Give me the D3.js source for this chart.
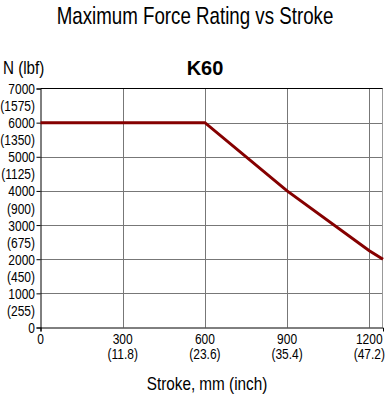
<!DOCTYPE html>
<html><head><meta charset="utf-8">
<script src="https://cdn.jsdelivr.net/npm/d3@7"></script>
<style>body{margin:0;background:#fff}svg{display:block}</style>
</head><body>
<script>
const strokeMm = [0, 600, 900, 1200, 1250];
const forceN = [6000, 6000, 4000, 2250, 2000];
const yTicks = [0, 1000, 2000, 3000, 4000, 5000, 6000, 7000];
const yTickLbf = ["", "(255)", "(450)", "(675)", "(900)", "(1125)", "(1350)", "(1575)"];
const xTicks = [0, 300, 600, 900, 1200];
const xTickInch = ["", "(11.8)", "(23.6)", "(35.4)", "(47.2)"];

const W = 385, H = 396;
const m = {l: 40.5, r: 383, t: 88.5, b: 327.5};
const font = "'Liberation Sans', Arial, sans-serif";
const svg = d3.select("body").append("svg").attr("width", W).attr("height", H)
  .style("font-family", font);

function txt(g, px, py, s, size, anchor, sx) {
  return g.append("text").attr("transform", `translate(${px},${py}) scale(${sx || 0.8},1)`)
    .attr("text-anchor", anchor || "start").attr("font-size", size).attr("fill", "#000").text(s);
}

const x = d3.scaleLinear().domain([0, 1250]).range([m.l, m.r]);
const y = d3.scaleLinear().domain([0, 7000]).range([m.b, m.t]);

// grid
svg.append("g").selectAll("line").data(yTicks.slice(1, -1)).join("line")
  .attr("x1", m.l).attr("x2", m.r).attr("y1", d => Math.round(y(d)) + 0.5).attr("y2", d => Math.round(y(d)) + 0.5)
  .attr("stroke", "#777");
svg.append("g").selectAll("line").data(xTicks.slice(1)).join("line")
  .attr("y1", m.t).attr("y2", m.b).attr("x1", d => Math.round(x(d)) + 0.5).attr("x2", d => Math.round(x(d)) + 0.5)
  .attr("stroke", "#777");
// borders
svg.append("line").attr("x1", m.l).attr("x2", m.r).attr("y1", m.t).attr("y2", m.t).attr("stroke", "#000");
svg.append("line").attr("x1", m.r - 0.5).attr("x2", m.r - 0.5).attr("y1", m.t).attr("y2", m.b).attr("stroke", "#999");

// axes
const yAxis = d3.axisLeft(y).tickValues(yTicks).tickSize(4).tickFormat("");
const gy = svg.append("g").attr("transform", `translate(${m.l},0)`).call(yAxis);
gy.select(".domain").attr("stroke", "#000");
const xAxis = d3.axisBottom(x).tickValues([0]).tickSize(4).tickFormat("");
const gx = svg.append("g").attr("transform", `translate(0,${m.b})`).call(xAxis);
gx.select(".domain").attr("stroke", "#000");

// y labels
const gyl = svg.append("g");
yTicks.forEach((d, i) => {
  txt(gyl, 35, y(d) + 5.5, d, 15, "end");
  if (i > 0) txt(gyl, 35, y(d - 500) + 5.5, yTickLbf[i], 15, "end");
});

// x labels
const gxl = svg.append("g");
xTicks.forEach((d, i) => {
  txt(gxl, x(d), 344, d, 15, "middle");
  if (i > 0) txt(gxl, x(d), 359, xTickInch[i], 15, "middle");
});

// line
svg.append("path").datum(strokeMm.map((s, i) => [s, forceN[i]]))
  .attr("d", d3.line().x(d => x(d[0])).y(d => y(d[1])))
  .attr("fill", "none").attr("stroke", "#850000").attr("stroke-width", 3);

// titles
txt(svg, 195, 24, "Maximum Force Rating vs Stroke", 24, "middle", 0.78);
txt(svg, 3, 74, "N (lbf)", 19, "start", 0.8);
svg.append("text").attr("x", 205).attr("y", 75).attr("text-anchor", "middle")
  .attr("font-size", 20).attr("font-weight", "bold").text("K60");
txt(svg, 207, 390, "Stroke, mm (inch)", 18, "middle", 0.85);
</script>
</body></html>
